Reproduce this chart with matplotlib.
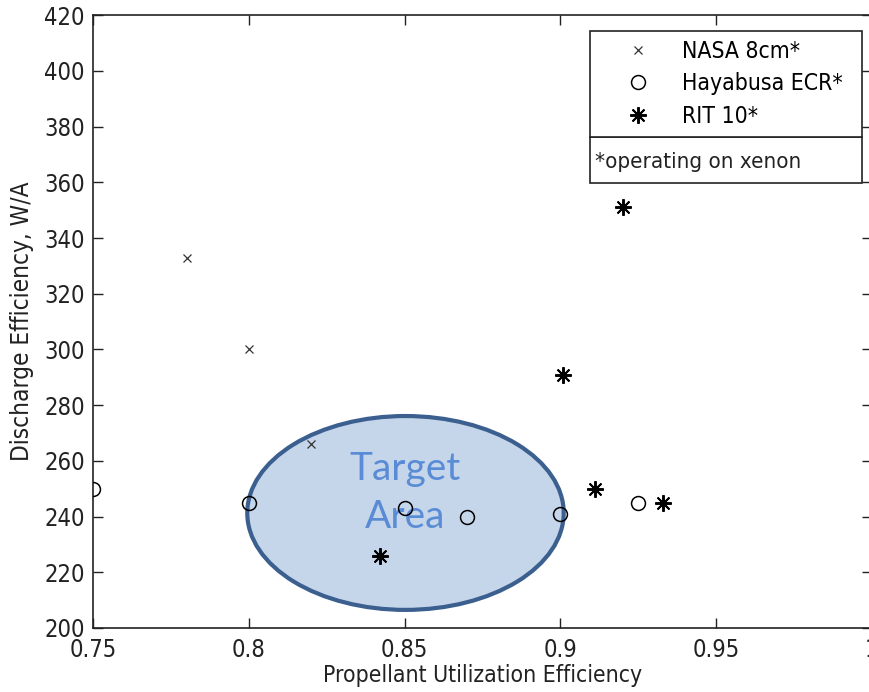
import matplotlib
matplotlib.use('Agg')
import matplotlib.pyplot as plt
from matplotlib.patches import Ellipse, Rectangle

# data
nasa_x = [0.78, 0.80, 0.82]
nasa_y = [333, 300, 266]
haya_x = [0.75, 0.80, 0.85, 0.87, 0.90, 0.925]
haya_y = [250, 245, 243, 240, 241, 245]
rit_x = [0.92, 0.901, 0.911, 0.933, 0.842]
rit_y = [351, 291, 250, 245, 226]

xticks = [0.75, 0.8, 0.85, 0.9, 0.95, 1.0]
xtick_labels = ['0.75', '0.8', '0.85', '0.9', '0.95', '1']
yticks = list(range(200, 421, 20))

plt.rcParams['font.family'] = ['DejaVu Sans']
plt.rcParams['font.stretch'] = 'condensed'

fig = plt.figure(figsize=(8.7, 6.92), dpi=100)
ax = fig.add_axes([0.107, 0.0925, 0.895, 0.8855])

# target area
ell = Ellipse((0.8503, 241.3), 0.1016, 69.6, facecolor='#c6d6ea',
              edgecolor='#3b5f8e', linewidth=3.0, zorder=1)
ax.add_patch(ell)
ax.text(0.8503, 248.5, 'Target\nArea', ha='center', va='center', color='#5a8cd6',
        fontsize=28, family=['Lato', 'DejaVu Sans'], fontstretch='normal',
        linespacing=1.4, zorder=2)

ax.plot(nasa_x, nasa_y, linestyle='none', marker='x', color='#333333',
        markersize=6, markeredgewidth=0.9, label='NASA 8cm*', zorder=3)
ax.plot(haya_x, haya_y, linestyle='none', marker='o', markerfacecolor='none',
        markeredgecolor='black', markersize=10, markeredgewidth=1.1,
        label='Hayabusa ECR*', zorder=3)
ax.plot(rit_x, rit_y, linestyle='none', marker=(8, 2, 0), color='black',
        markersize=12, markeredgewidth=1.4, label='RIT 10*', zorder=3)

ax.set_xlim(0.75, 1.0)
ax.set_ylim(200, 420)
ax.set_xticks(xticks)
ax.set_xticklabels(xtick_labels)
ax.set_yticks(yticks)
ax.tick_params(direction='in', top=True, right=True, labelsize=17, length=7,
               width=1, colors='#222222')
ax.tick_params(axis='x', pad=7)
ax.tick_params(axis='y', pad=6)
for s in ax.spines.values():
    s.set_linewidth(1.2)
    s.set_color('#222222')
ax.set_xlabel('Propellant Utilization Efficiency', fontsize=16.5, color='#222222', labelpad=2)
ax.set_ylabel('Discharge Efficiency, W/A', fontsize=17.5, color='#222222', labelpad=7)

leg = ax.legend(loc='lower left', bbox_to_anchor=(0.638, 0.801, 0.35, 0.178),
                mode='expand', borderaxespad=0, fancybox=False, framealpha=1,
                edgecolor='#222222', fontsize=16.5, handlelength=3.4,
                handletextpad=0.2, labelspacing=0.42, borderpad=0.4)
leg.get_frame().set_linewidth(1.2)
leg.set_zorder(5)

# note box under the legend
ax.add_patch(Rectangle((0.638, 0.727), 0.35, 0.074, transform=ax.transAxes,
                       facecolor='white', edgecolor='#222222', linewidth=1.2,
                       zorder=5))
ax.text(0.645, 0.760, '*operating on xenon', transform=ax.transAxes,
        fontsize=16, va='center', ha='left', color='#222222', zorder=6)

plt.savefig('out.png', dpi=100)
